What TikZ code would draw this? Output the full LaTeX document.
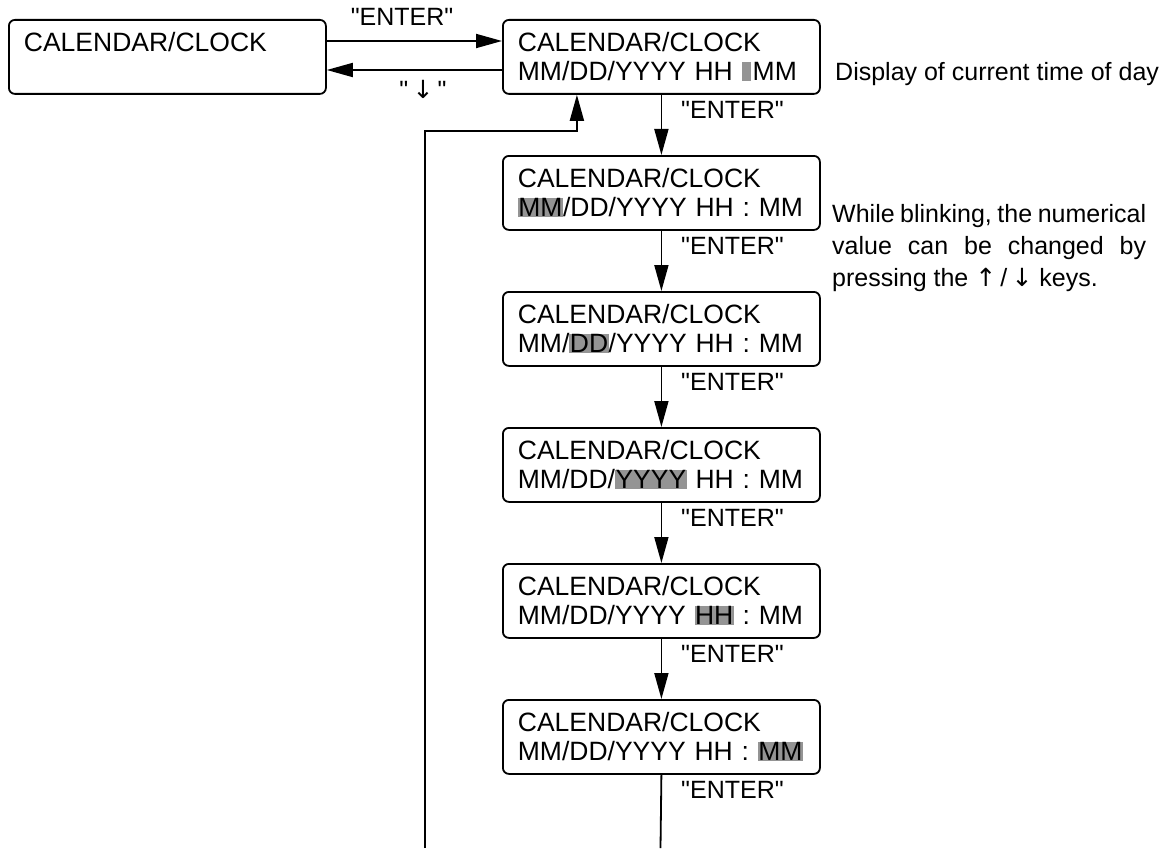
\documentclass[tikz,border=0pt]{standalone}
\usepackage{fontspec}
\setmainfont{Liberation Sans}[Ligatures=TeXOff]
\newfontfamily\arrowfont{DejaVu Sans}
\usetikzlibrary{arrows.meta,calc}
\definecolor{hlgray}{gray}{0.58}
\newcommand{\hlx}[1]{{\setlength{\fboxsep}{0.5pt}\colorbox{hlgray}{#1}}}
\begin{document}
\frenchspacing
\begin{tikzpicture}[x=1pt,y=-1pt,
  disp/.style={draw, line width=1.8pt, rounded corners=6pt, anchor=north west,
    minimum width=317pt, minimum height=74pt, text width=287pt,
    inner xsep=15pt, inner ysep=0pt, align=left,
    font=\fontsize{26.5}{29}\selectfont\frenchspacing},
  lbl/.style={font=\fontsize{25}{32}\selectfont\frenchspacing, inner sep=0pt},
  arr/.style={line width=1.8pt, -{Triangle[length=26pt,width=14pt]}},
  ln/.style={line width=1.8pt}]
\useasboundingbox (0,0) rectangle (1169,848);

% boxes
\node[disp] (lb) at (8,19) {CALENDAR/CLOCK\\\mbox{}};
\node[disp] (b1) at (502,19) {CALENDAR/CLOCK\\\mbox{MM/DD/YYYY HH\ \hlx{\vphantom{M}\hspace{8pt}}\hspace{2pt}MM}};
\node[disp] (b2) at (502,155) {CALENDAR/CLOCK\\\mbox{\hlx{MM}/DD/YYYY HH : MM}};
\node[disp] (b3) at (502,291) {CALENDAR/CLOCK\\\mbox{MM/\hlx{DD}/YYYY HH : MM}};
\node[disp] (b4) at (502,427) {CALENDAR/CLOCK\\\mbox{MM/DD/\hlx{YYYY} HH : MM}};
\node[disp] (b5) at (502,563) {CALENDAR/CLOCK\\\mbox{MM/DD/YYYY \hlx{HH} : MM}};
\node[disp] (b6) at (502,699) {CALENDAR/CLOCK\\\mbox{MM/DD/YYYY HH : \hlx{MM}}};

% top connectors
\draw[arr] ([yshift=-22pt]lb.north east) -- ([yshift=-22pt]b1.north west);
\draw[arr] ([yshift=-51pt]b1.north west) -- ([yshift=-51pt]lb.north east);
\node[lbl] (enter0) at (402,17) {"ENTER"};
\node[lbl] (down0) at (423,89) {"\,{\arrowfont ↓}\,"};

% vertical chain
\draw[arr] (b1.south) -- (b2.north);
\draw[arr] (b2.south) -- (b3.north);
\draw[arr] (b3.south) -- (b4.north);
\draw[arr] (b4.south) -- (b5.north);
\draw[arr] (b5.south) -- (b6.north);
\node[lbl, anchor=west] (e1) at (681,110) {"ENTER"};
\node[lbl, anchor=west] (e2) at (681,246) {"ENTER"};
\node[lbl, anchor=west] (e3) at (681,382) {"ENTER"};
\node[lbl, anchor=west] (e4) at (681,518) {"ENTER"};
\node[lbl, anchor=west] (e5) at (681,654) {"ENTER"};
\node[lbl, anchor=west] (e6) at (681,790) {"ENTER"};

% return loop
\coordinate (rbot) at (660.5,848);
\coordinate (lbot) at (425,848);
\coordinate (lturn) at (425,131);
\draw[ln] (b6.south) -- (rbot);
\draw[arr] (lbot) -- (lturn) -| ([xshift=-84.5pt]b1.south);

% side texts
\node[lbl, anchor=base west] (dispnote) at (835,81) {Display of current time of day};
\node[lbl, anchor=north west, text width=314pt, align=justify] (blink) at (832,204)
  {While blinking, the numerical\linebreak value can be changed by\linebreak pressing the {\arrowfont ↑}\,/\,{\arrowfont ↓} keys.};
\end{tikzpicture}
\end{document}
